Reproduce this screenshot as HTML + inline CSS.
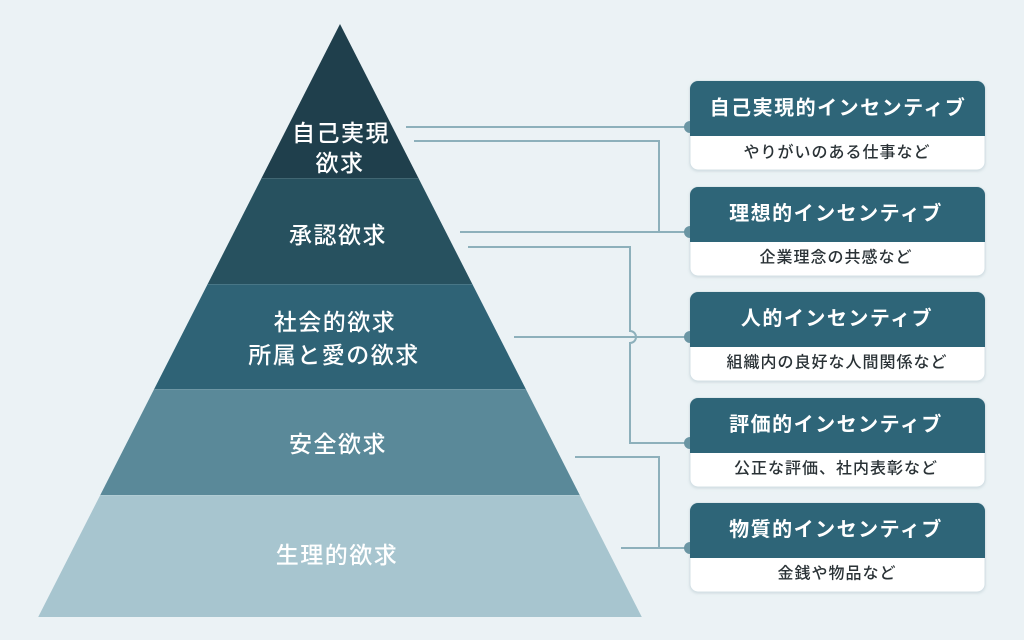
<!DOCTYPE html>
<html>
<head>
<meta charset="utf-8">
<style>
html,body{margin:0;padding:0;background:#ebf2f5;}
svg{display:block;}
text{font-family:"Liberation Sans","Noto Sans CJK JP",sans-serif;}
</style>
</head>
<body>
<svg width="1024" height="640" viewBox="0 0 1024 640" xmlns="http://www.w3.org/2000/svg">
  <defs>
    <filter id="sh" x="-10%" y="-10%" width="120%" height="130%">
      <feDropShadow dx="0" dy="1" stdDeviation="1.2" flood-color="#7a98a3" flood-opacity="0.25"/>
    </filter>
  </defs>
  <rect width="1024" height="640" fill="#ebf2f5"/>

  <!-- Pyramid bands -->
  <polygon points="340,24 418.4,178 261.6,178" fill="#1f3f4c"/>
  <polygon points="261.6,178 418.4,178 472.3,284 207.7,284" fill="#27515f"/>
  <polygon points="207.7,284 472.3,284 525.8,389 154.2,389" fill="#2f6376"/>
  <polygon points="154.2,389 525.8,389 579.7,495 100.3,495" fill="#5a8999"/>
  <polygon points="100.3,495 579.7,495 641.8,617 38.2,617" fill="#a7c5cf"/>
  <!-- separators -->
  <g stroke="#ffffff" stroke-opacity="0.12" stroke-width="1">
    <line x1="262" y1="178.5" x2="418" y2="178.5"/>
    <line x1="208" y1="284.5" x2="472" y2="284.5"/>
    <line x1="155" y1="389.5" x2="525" y2="389.5"/>
    <line x1="101" y1="495.5" x2="579" y2="495.5"/>
  </g>

  <!-- Pyramid text -->
  <g fill="#ffffff" font-size="23" font-weight="500" text-anchor="middle" dominant-baseline="central" letter-spacing="1.5">
    <text x="341" y="133">自己実現</text>
    <text x="340" y="163">欲求</text>
    <text x="338" y="235">承認欲求</text>
    <text x="335" y="322">社会的欲求</text>
    <text x="334" y="355">所属と愛の欲求</text>
    <text x="338" y="444">安全欲求</text>
    <text x="337" y="555">生理的欲求</text>
  </g>

  <!-- Connectors -->
  <g fill="none" stroke="#8db0bb" stroke-width="2">
    <path d="M406 127 H690"/>
    <path d="M414 141 H659 V232"/>
    <path d="M460 232 H690"/>
    <path d="M468 247 H630 V331 A6 6 0 0 1 630 343 V443 H690"/>
    <path d="M514 337 H690"/>
    <path d="M575 457 H659 V548"/>
    <path d="M621 548 H690"/>
  </g>

  <!-- Boxes -->
  <g id="boxes">
    <g transform="translate(0,81)">
      <rect x="690" y="0" width="295" height="89" rx="8" fill="#ffffff" stroke="#d5e1e6" stroke-width="1" filter="url(#sh)"/>
      <path d="M690 55 V8 A8 8 0 0 1 698 0 H977 A8 8 0 0 1 985 8 V55 Z" fill="#2e6578"/>
      <path d="M690 40 A6 6 0 0 0 690 52 Z" fill="#6a95a3"/>
      <text x="838" y="27.5" fill="#ffffff" font-size="20" font-weight="bold" text-anchor="middle" dominant-baseline="central" letter-spacing="1.5">自己実現的インセンティブ</text>
      <text x="837" y="72" fill="#2a3236" font-size="16" font-weight="500" text-anchor="middle" dominant-baseline="central" letter-spacing="1">やりがいのある仕事など</text>
    </g>
    <g transform="translate(0,187)">
      <rect x="690" y="0" width="295" height="89" rx="8" fill="#ffffff" stroke="#d5e1e6" stroke-width="1" filter="url(#sh)"/>
      <path d="M690 55 V8 A8 8 0 0 1 698 0 H977 A8 8 0 0 1 985 8 V55 Z" fill="#2e6578"/>
      <path d="M690 39 A6 6 0 0 0 690 51 Z" fill="#6a95a3"/>
      <text x="836" y="27" fill="#ffffff" font-size="20" font-weight="bold" text-anchor="middle" dominant-baseline="central" letter-spacing="1.5">理想的インセンティブ</text>
      <text x="836" y="71" fill="#2a3236" font-size="16" font-weight="500" text-anchor="middle" dominant-baseline="central" letter-spacing="1">企業理念の共感など</text>
    </g>
    <g transform="translate(0,292)">
      <rect x="690" y="0" width="295" height="89" rx="8" fill="#ffffff" stroke="#d5e1e6" stroke-width="1" filter="url(#sh)"/>
      <path d="M690 55 V8 A8 8 0 0 1 698 0 H977 A8 8 0 0 1 985 8 V55 Z" fill="#2e6578"/>
      <path d="M690 39 A6 6 0 0 0 690 51 Z" fill="#6a95a3"/>
      <text x="837" y="27" fill="#ffffff" font-size="20" font-weight="bold" text-anchor="middle" dominant-baseline="central" letter-spacing="1.5">人的インセンティブ</text>
      <text x="837" y="71" fill="#2a3236" font-size="16" font-weight="500" text-anchor="middle" dominant-baseline="central" letter-spacing="1">組織内の良好な人間関係など</text>
    </g>
    <g transform="translate(0,398)">
      <rect x="690" y="0" width="295" height="89" rx="8" fill="#ffffff" stroke="#d5e1e6" stroke-width="1" filter="url(#sh)"/>
      <path d="M690 55 V8 A8 8 0 0 1 698 0 H977 A8 8 0 0 1 985 8 V55 Z" fill="#2e6578"/>
      <path d="M690 39 A6 6 0 0 0 690 51 Z" fill="#6a95a3"/>
      <text x="836" y="27" fill="#ffffff" font-size="20" font-weight="bold" text-anchor="middle" dominant-baseline="central" letter-spacing="1.5">評価的インセンティブ</text>
      <text x="836" y="71" fill="#2a3236" font-size="16" font-weight="500" text-anchor="middle" dominant-baseline="central" letter-spacing="1">公正な評価、社内表彰など</text>
    </g>
    <g transform="translate(0,503)">
      <rect x="690" y="0" width="295" height="89" rx="8" fill="#ffffff" stroke="#d5e1e6" stroke-width="1" filter="url(#sh)"/>
      <path d="M690 55 V8 A8 8 0 0 1 698 0 H977 A8 8 0 0 1 985 8 V55 Z" fill="#2e6578"/>
      <path d="M690 39 A6 6 0 0 0 690 51 Z" fill="#6a95a3"/>
      <text x="836" y="27" fill="#ffffff" font-size="20" font-weight="bold" text-anchor="middle" dominant-baseline="central" letter-spacing="1.5">物質的インセンティブ</text>
      <text x="837" y="71" fill="#2a3236" font-size="16" font-weight="500" text-anchor="middle" dominant-baseline="central" letter-spacing="1">金銭や物品など</text>
    </g>
  </g>
</svg>
</body>
</html>
